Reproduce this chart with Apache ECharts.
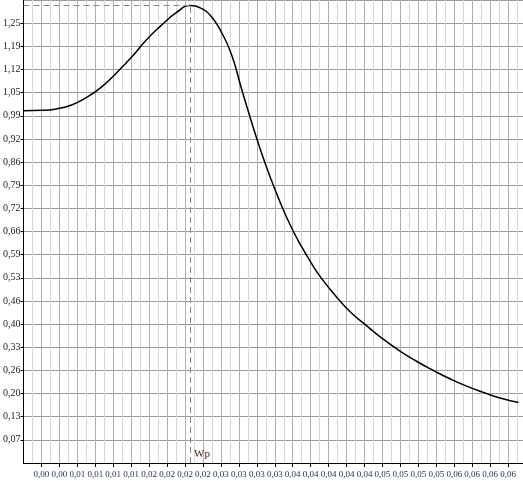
<!DOCTYPE html>
<html>
<head>
<meta charset="utf-8">
<script src="https://cdn.jsdelivr.net/npm/echarts@6/dist/echarts.min.js"></script>
<style>
  html, body { margin: 0; padding: 0; background: #fff; }
  #chart_container { width: 523px; height: 481px; }
</style>
</head>
<body>
<div id="chart_container"></div>
<script>
  // curve points: x = frequency, y = factor
  var xData = [0.0000, 0.0024, 0.0043, 0.0063, 0.0082, 0.0102, 0.0121, 0.0141, 0.0161, 0.0180,
    0.0200, 0.0218, 0.0232, 0.0245, 0.0258, 0.0272, 0.0285, 0.0298, 0.0311, 0.0324,
    0.0337, 0.0350, 0.0363, 0.0376, 0.0389, 0.0409, 0.0428, 0.0448, 0.0467, 0.0494,
    0.0515, 0.0537, 0.0559, 0.0581, 0.0602, 0.0624, 0.0648]
  var yData = [1.003, 1.004, 1.008, 1.019, 1.040, 1.070, 1.109, 1.154, 1.205, 1.245,
    1.282, 1.302, 1.295, 1.273, 1.231, 1.165, 1.069, 0.975, 0.887, 0.808,
    0.737, 0.674, 0.620, 0.572, 0.529, 0.475, 0.430, 0.393, 0.359, 0.317,
    0.289, 0.263, 0.239, 0.218, 0.201, 0.185, 0.172]
  // peak (Wp)
  var peakX = 0.0218
  var peakY = 1.302
  var peakName = 'Wp'
  // axis steps
  var xStep = 0.00235
  var xMax = 0.0654
  var yStep = 0.0659
  var yTicks = 20

  var points = xData.map(function (x, i) { return [x, yData[i]] })
  var fmt = function (v) { return v.toFixed(2).replace('.', ',') }
  var serif = '"Liberation Serif", "DejaVu Serif", serif'

  var charts = echarts.init(document.getElementById('chart_container'))
  charts.setOption({
    animation: false,
    grid: {
      left: 22,
      right: 0,
      top: 0,
      bottom: 18
    },
    xAxis: {
      type: 'value',
      min: 0,
      max: xMax,
      interval: xStep,
      axisLine: { show: true, lineStyle: { color: '#000', width: 1 } },
      axisTick: { show: true, length: 4, lineStyle: { color: '#000' } },
      minorTick: { show: false, splitNumber: 2 },
      axisLabel: {
        showMinLabel: false,
        showMaxLabel: false,
        margin: 7,
        color: '#1f2c55',
        fontSize: 9,
        fontFamily: serif,
        formatter: fmt
      },
      splitLine: { show: true, lineStyle: { color: '#b0b0b0', width: 1 } },
      minorSplitLine: { show: true, lineStyle: { color: '#d8d8d8', width: 1 } }
    },
    yAxis: {
      type: 'value',
      min: 0,
      max: yStep * yTicks,
      interval: yStep,
      axisLine: { show: true, lineStyle: { color: '#000', width: 1 } },
      axisTick: { show: true, length: 3, lineStyle: { color: '#000' } },
      axisLabel: {
        showMinLabel: false,
        showMaxLabel: false,
        margin: 3,
        color: '#222',
        fontSize: 10,
        fontFamily: serif,
        formatter: fmt
      },
      splitLine: { show: true, lineStyle: { color: '#9a9a9a', width: 1 } }
    },
    series: [{
      type: 'line',
      data: points,
      smooth: 0.5,
      symbol: 'none',
      lineStyle: { color: '#000', width: 1.5 },
      markLine: {
        silent: true,
        symbol: 'none',
        label: { show: false },
        lineStyle: { color: '#888', type: [6, 4], width: 1 },
        data: [
          [{ coord: [0, peakY] }, { coord: [peakX, peakY] }],
          [{ coord: [peakX, 0] }, { coord: [peakX, peakY] }]
        ]
      },
      markPoint: {
        silent: true,
        symbolSize: 0,
        data: [{ coord: [peakX, 0], value: peakName }],
        label: {
          show: true,
          formatter: peakName,
          color: '#4a2418',
          fontSize: 11,
          fontFamily: serif,
          offset: [12, -9]
        }
      }
    }]
  })
</script>
</body>
</html>
